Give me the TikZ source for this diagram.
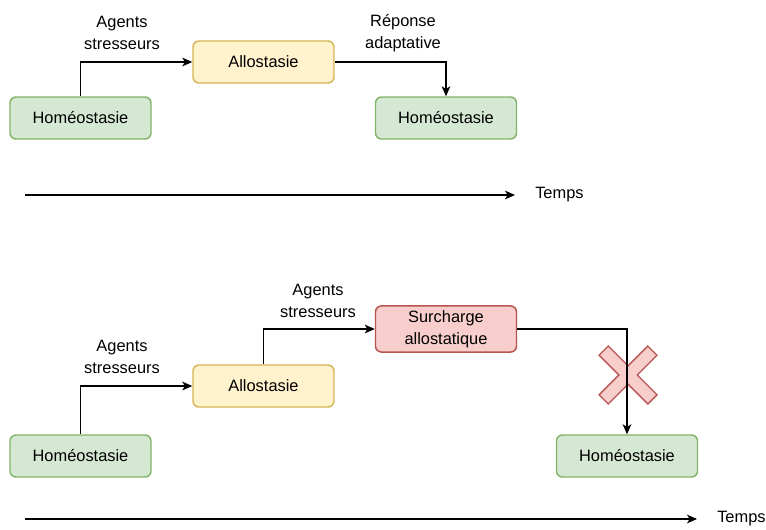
\documentclass[tikz,border=0pt]{standalone}
\usepackage{fontspec}
\setmainfont{Liberation Sans}
\usetikzlibrary{positioning, arrows, arrows.meta}
\definecolor{greenfill}{HTML}{D5E8D4}
\definecolor{greenline}{HTML}{82B366}
\definecolor{yellowfill}{HTML}{FFF2CC}
\definecolor{yellowline}{HTML}{D6B656}
\definecolor{redfill}{HTML}{F8CECC}
\definecolor{redline}{HTML}{B85450}

\begin{document}
\begin{tikzpicture}[x=0.75pt,y=-0.75pt]
		\tikzstyle{box} = [draw, rounded corners=4.5pt, minimum width=105.75pt, minimum height=31.5pt, line width=1.1pt, text centered, font=\fontsize{12.3}{16.5}\selectfont]
		\tikzstyle{box_green} = [box, draw=greenline, fill=greenfill]
		\tikzstyle{box_yellow} = [box, draw=yellowline, fill=yellowfill]
		\tikzstyle{box_red} = [box, draw=redline, fill=redfill, align=center]
		\tikzstyle{stealth} = [-{Stealth[length=7.5pt,width=6.5pt,inset=2pt]}, line width=1.1pt]
		\tikzstyle{txt} = [align=center, inner sep=0, font=\fontsize{12.3}{16.5}\selectfont]
		\tikzstyle{cross_op} = [draw=redline, fill=redfill, line width=1pt, line join=miter]
		\useasboundingbox (0,0) rectangle (766,529);
		% avant
		\node [box_green] (v1) at (80.5,118) {Homéostasie};
		\node [box_yellow] (v2) at (263.5,62) {Allostasie};
		\node [box_green] (v3) at (446,118) {Homéostasie};
		\node [txt] (v4) at (122,33) {Agents\\stresseurs};
		\node [txt] (v5) at (403,33) {Réponse\\adaptative};
		\draw [stealth] (v1) |- (v2);
		\draw [stealth] (v2) -| (v3);
		\coordinate (v6) at (25,195);
		\coordinate (v7) at (515,195);
		\node [txt, anchor=west] (v8) at (535,195) {Temps};
		\draw [stealth] (v6) -- (v7);
		% apres
		\node [box_green] (v9) at (80.5,456) {Homéostasie};
		\node [box_yellow] (v10) at (263.5,386) {Allostasie};
		\node [box_red] (v11) at (446,329) {Surcharge\\allostatique};
		\node [box_green] (v12) at (627,456) {Homéostasie};
		\node [txt] (v13) at (122,357) {Agents\\stresseurs};
		\node [txt] (v14) at (318,301) {Agents\\stresseurs};
		\draw [cross_op, shift={(628,375)}, rotate=45] (6.5,6.5) -- (6.5,34.5) -- (-6.5,34.5) -- (-6.5,6.5) -- (-34.5,6.5) -- (-34.5,-6.5) -- (-6.5,-6.5) -- (-6.5,-34.5) -- (6.5,-34.5) -- (6.5,-6.5) -- (34.5,-6.5) -- (34.5,6.5) -- cycle;
		\draw [stealth] (v9) |- (v10);
		\draw [stealth] (v10) |- (v11);
		\draw [stealth] (v11) -| (v12);
		\coordinate (v15) at (25,519);
		\coordinate (v16) at (697,519);
		\node [txt, anchor=west] (v17) at (717,519) {Temps};
		\draw [stealth] (v15) -- (v16);
\end{tikzpicture}
\end{document}
